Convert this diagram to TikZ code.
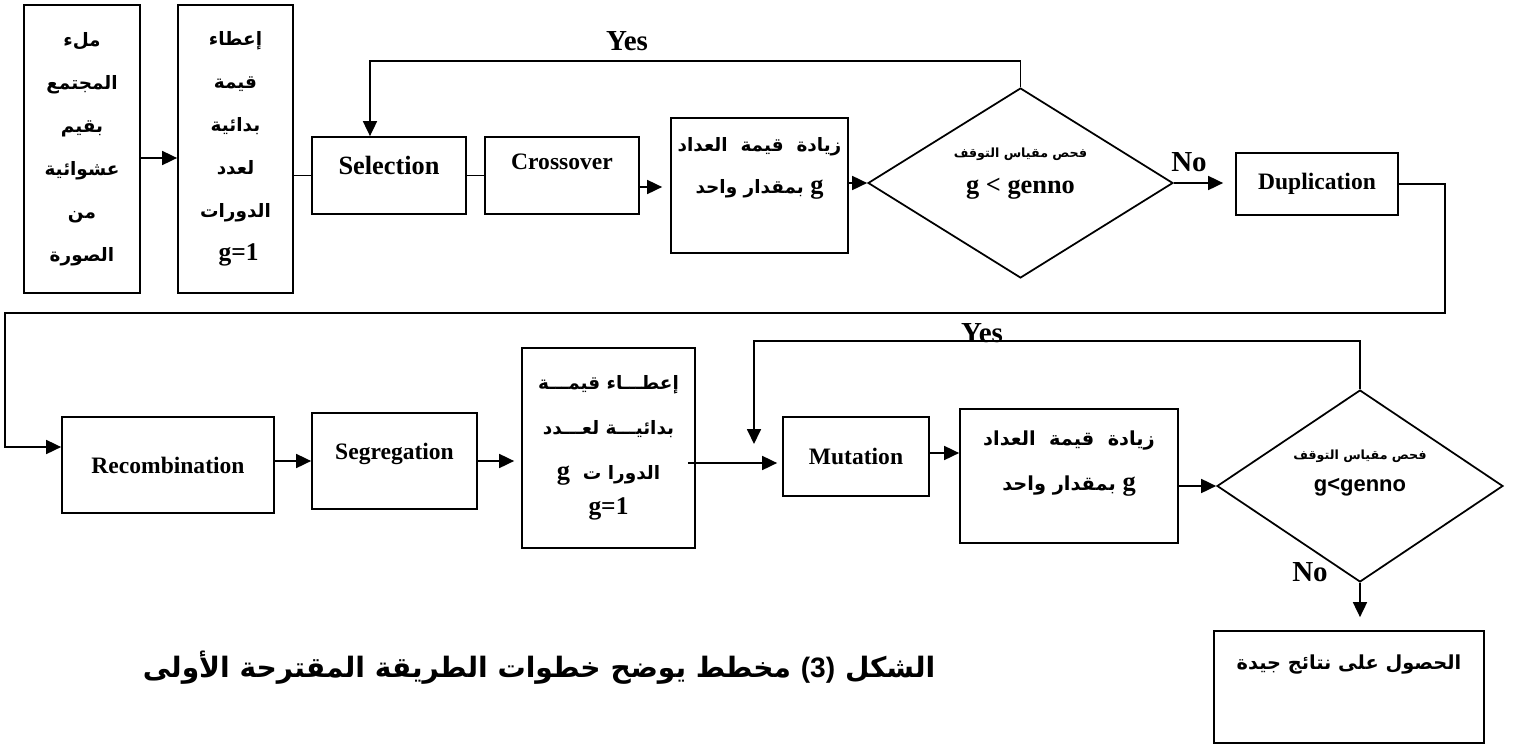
\documentclass[tikz,border=0pt]{standalone}
\usepackage{fontspec}
\setmainfont{Liberation Serif}
\setsansfont{Liberation Sans}
\newfontfamily\arabicfont[Script=Arabic]{DejaVu Sans}
\TeXXeTstate=1
\usepackage{tikz}
\usetikzlibrary{positioning,shapes.geometric,arrows.meta}

\newcommand{\rl}[1]{\beginR #1\endR}
\newcommand{\arfont}[2]{\arabicfont\bfseries\fontsize{#1}{#2}\selectfont}
\newcommand{\latfont}[1]{\rmfamily\bfseries\fontsize{#1}{#1}\selectfont}

\begin{document}
\begin{tikzpicture}[x=0.02cm, y=-0.02cm, line width=1pt,
    kasten/.style={draw, rectangle, inner sep=0pt, align=center},
    raute/.style={draw, diamond, inner sep=0pt, align=center},
    pfeil/.style={-{Triangle[length=0.3cm,width=0.28cm]}},
    lat/.style={font=\latfont{13.4}},
    marke/.style={font=\latfont{16.5}}]

    \useasboundingbox (0,0) rectangle (1516,744);

    % Erste Reihe
    \node (fuellen) at (82,149) [kasten, font=\arfont{10.5}{24.5}, minimum width=2.32cm, minimum height=5.76cm] {\rl{ملء}\\\rl{المجتمع}\\\rl{بقيم}\\\rl{عشوائية}\\\rl{من}\\\rl{الصورة}};
    \node (start1) at (235.5,149) [kasten, font=\arfont{10.5}{24.5}, minimum width=2.3cm, minimum height=5.76cm] {\rl{إعطاء}\\\rl{قيمة}\\\rl{بدائية}\\\rl{لعدد}\\\rl{الدورات}\\{\latfont{14.5} g=1}};
    \node (auswahl) at (389,175.5) [kasten, font=\latfont{15}, minimum width=3.08cm, minimum height=1.54cm, text depth=0.4cm] {Selection};
    \node (kreuz) at (562,175.5) [kasten, lat, minimum width=3.08cm, minimum height=1.54cm, text depth=0.55cm] {Crossover};
    \node (zaehler1) at (759.5,185.5) [kasten, font=\arfont{10.5}{23.5}, minimum width=3.54cm, minimum height=2.7cm, text depth=0.8cm] {\rl{زيادة\ \ قيمة\ \ العداد}\\\rl{{\latfont{15}g} بمقدار واحد}};
    \node (test1) at (1020.5,183) [raute, shape aspect=1.6, minimum width=6.1cm, minimum height=3.8cm, text depth=0.5cm] {{\arfont{7.2}{9}\rl{فحص مقياس التوقف}}\\[0.3cm]{\latfont{15}g < genno}};
    \node (dupl) at (1317,184) [kasten, lat, minimum width=3.24cm, minimum height=1.24cm] {Duplication};

    % Zweite Reihe
    \node (rekomb) at (168,465) [kasten, lat, minimum width=4.24cm, minimum height=1.92cm] {Recombination};
    \node (segr) at (394.5,461) [kasten, lat, minimum width=3.3cm, minimum height=1.92cm, text depth=0.4cm] {Segregation};
    \node (start2) at (608.5,448) [kasten, font=\arfont{10.5}{25.6}, minimum width=3.46cm, minimum height=4cm] {\rl{إعطـــاء قيمـــة}\\\rl{بدائيـــة لعـــدد}\\\rl{الدورا ت\ \ {\latfont{15}g}}\\[-0.2cm]{\latfont{14.5}g=1}};
    \node (mutation) at (856,456.5) [kasten, lat, minimum width=2.92cm, minimum height=1.58cm] {Mutation};
    \node (zaehler2) at (1069,476) [kasten, font=\arfont{11}{25.6}, minimum width=4.36cm, minimum height=2.68cm, text depth=0.6cm] {\rl{زيادة\ \ قيمة\ \ العداد}\\\rl{{\latfont{15}g} بمقدار واحد}};
    \node (test2) at (1360,486) [raute, shape aspect=1.5, minimum width=5.72cm, minimum height=3.84cm, text depth=0.6cm] {{\arfont{7.2}{9}\rl{فحص مقياس التوقف}}\\[0.22cm]{\sffamily\bfseries\fontsize{12.5}{15}\selectfont g<genno}};
    \node (ende) at (1349,687) [kasten, font=\arfont{11}{14}, minimum width=5.4cm, minimum height=2.24cm, text depth=1.0cm] {\rl{الحصول على نتائج جيدة}};

    % Beschriftungen
    \node (ja1) at (627,41) [marke] {Yes};
    \node (nein1) at (1189,162) [marke] {No};
    \node (ja2) at (982,333) [marke] {Yes};
    \node (nein2) at (1310,572) [marke] {No};
    \node (titel) at (539,668) [font=\arfont{16}{20}] {\rl{الشكل \beginL{\sffamily (3)}\endL{} مخطط يوضح خطوات الطريقة المقترحة الأولى}};

    % Hilfspunkte
    \coordinate (schleife1) at (370,61);
    \coordinate (ecke1) at (1445,313);
    \coordinate (ecke2) at (5,313);
    \coordinate (schleife2) at (754,341);
    \coordinate (frei) at (754,444);

    % Verbindungen
    \draw[pfeil] (fuellen.east |- 0,158) -- (start1.west |- 0,158);
    \draw (start1.east |- auswahl.west) -- (auswahl.west);
    \draw (auswahl) -- (kreuz);
    \draw[pfeil, shorten >=0.16cm] ([yshift=-0.23cm]kreuz.east) -- ([yshift=-0.23cm]kreuz.east -| zaehler1.west);
    \draw[pfeil] (zaehler1.east |- test1.west) -- (test1.west);
    \draw[pfeil] (test1.north) |- (schleife1) -- (schleife1 |- auswahl.north);
    \draw[pfeil, shorten >=0.24cm] (test1.east) -- (test1.east -| dupl.west);
    \draw[pfeil] (dupl.east) -| (ecke1) -- (ecke2) |- ([yshift=0.36cm]rekomb.west);
    \draw[pfeil] (rekomb.east |- segr.west) -- (segr.west);
    \draw[pfeil, shorten >=0.14cm] (segr.east) -- (segr.east -| start2.west);
    \draw[pfeil, shorten >=0.1cm] ([xshift=-0.16cm]start2.east |- 0,463) -- (mutation.west |- 0,463);
    \draw[pfeil] (test2.north) |- (schleife2) -- (frei);
    \draw[pfeil] (mutation.east |- 0,453) -- (zaehler2.west |- 0,453);
    \draw[pfeil] (zaehler2.east |- test2.west) -- (test2.west);
    \draw[pfeil, shorten >=0.26cm] (test2.south) -- (test2.south |- ende.north);
\end{tikzpicture}
\end{document}
